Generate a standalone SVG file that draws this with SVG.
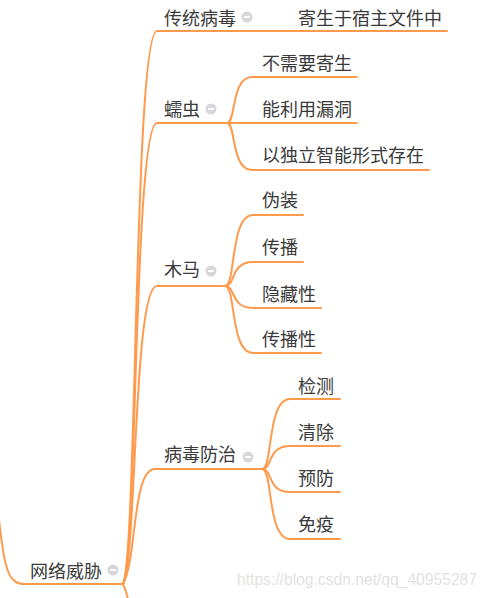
<svg xmlns="http://www.w3.org/2000/svg" width="490" height="598" viewBox="0 0 490 598">
<style>
.t{font-family:"Noto Sans CJK SC","Noto Sans",sans-serif;font-size:18px;fill:#3a3a3a}
.l{fill:none;stroke:#ff9a4d;stroke-width:2;stroke-linecap:round}
.wm{font-family:"Liberation Sans",Arial,sans-serif;font-size:16px;fill:#e2e2e2}
</style>
<defs>
<g id="minus"><circle r="5.5" fill="#d6d6db"/><rect x="-3" y="-0.9" width="6" height="1.8" fill="#fff"/></g>
</defs>
<rect width="490" height="598" fill="#fff"/>
<g id="connectors">
<path class="l" d="M-2,510 C4,570 8,584 25,584 L123,584"/>
<path class="l" d="M123,584 C126,590 127,594 128,600"/>
<path class="l" d="M123,584 C137,560 134,31 157,31 L447,31"/>
<path class="l" d="M123,584 C137,560 134,123 157,123 L227,123"/>
<path class="l" d="M123,584 C137,560 133,286 157,286 L225,286"/>
<path class="l" d="M123,584 C137,560 132,469 155,469 L262,469"/>
<path class="l" d="M227,123 C236,123 231,77 252,77 L357,77"/>
<path class="l" d="M227,123 L357,123"/>
<path class="l" d="M227,123 C236,123 231,170 252,170 L429,170"/>
<path class="l" d="M225,286 C236,286 230,215 253,215 L303,215"/>
<path class="l" d="M225,286 C236,286 230,262 253,262 L303,262"/>
<path class="l" d="M225,286 C236,286 230,308 253,308 L321,308"/>
<path class="l" d="M225,286 C236,286 230,353 253,353 L321,353"/>
<path class="l" d="M262,469 C273,469 267,399 290,399 L340,399"/>
<path class="l" d="M262,469 C273,469 267,446 290,446 L340,446"/>
<path class="l" d="M262,469 C273,469 267,492 290,492 L340,492"/>
<path class="l" d="M262,469 C273,469 267,539 290,539 L340,539"/>
</g>
<g id="root"><text class="t" x="30" y="578">网络威胁</text><use href="#minus" x="113" y="570"/></g>
<g id="n1"><text class="t" x="164" y="25">传统病毒</text><use href="#minus" x="247" y="17"/></g>
<g id="n1a"><text class="t" x="298" y="25">寄生于宿主文件中</text></g>
<g id="n2"><text class="t" x="164" y="116">蠕虫</text><use href="#minus" x="211" y="109"/></g>
<g id="n2a"><text class="t" x="262" y="70">不需要寄生</text></g>
<g id="n2b"><text class="t" x="262" y="116">能利用漏洞</text></g>
<g id="n2c"><text class="t" x="262" y="162">以独立智能形式存在</text></g>
<g id="n3"><text class="t" x="164" y="276">木马</text><use href="#minus" x="211" y="271"/></g>
<g id="n3a"><text class="t" x="262" y="207">伪装</text></g>
<g id="n3b"><text class="t" x="262" y="254">传播</text></g>
<g id="n3c"><text class="t" x="262" y="301">隐藏性</text></g>
<g id="n3d"><text class="t" x="262" y="346">传播性</text></g>
<g id="n4"><text class="t" x="164" y="461">病毒防治</text><use href="#minus" x="248" y="457"/></g>
<g id="n4a"><text class="t" x="298" y="393">检测</text></g>
<g id="n4b"><text class="t" x="298" y="439">清除</text></g>
<g id="n4c"><text class="t" x="298" y="485">预防</text></g>
<g id="n4d"><text class="t" x="298" y="531">免疫</text></g>
<text class="wm" x="237" y="585" textLength="240" lengthAdjust="spacingAndGlyphs">https://blog.csdn.net/qq_40955287</text>
</svg>
